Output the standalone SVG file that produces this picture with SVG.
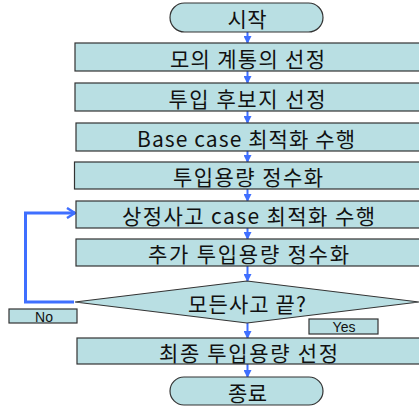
<svg xmlns="http://www.w3.org/2000/svg" width="419" height="407" viewBox="0 0 419 407">
<defs>
<style>
.n{fill:#B9DFE3;stroke:#333;stroke-width:1.2}
.t{font-family:"Noto Sans CJK KR","Noto Sans",sans-serif;font-size:21px;fill:#111;text-anchor:middle;dominant-baseline:central}
.s{font-family:"Liberation Sans",Arial,sans-serif;font-size:14px;fill:#111;text-anchor:middle;dominant-baseline:central}
.a{stroke:#3F6FFF;stroke-width:2;fill:none}
</style>
<marker id="ah" viewBox="0 0 8 8" refX="7" refY="4" markerWidth="8" markerHeight="8" markerUnits="userSpaceOnUse" orient="auto">
<path d="M0,0 L8,4 L0,8 Z" fill="#3F6FFF"/>
</marker>
<marker id="oh" viewBox="0 0 10 12" refX="9" refY="6" markerWidth="10" markerHeight="12" markerUnits="userSpaceOnUse" orient="auto">
<path d="M1,1 L9,6 L1,11" fill="none" stroke="#3F6FFF" stroke-width="2.5"/>
</marker>
</defs>
<rect width="419" height="407" fill="#fff"/>
<g id="connectors">
<line class="a" x1="247.5" y1="32" x2="247.5" y2="43" marker-end="url(#ah)"/>
<line class="a" x1="247.5" y1="71" x2="247.5" y2="83" marker-end="url(#ah)"/>
<line class="a" x1="247.5" y1="111" x2="247.5" y2="123" marker-end="url(#ah)"/>
<line class="a" x1="247.5" y1="151" x2="247.5" y2="162" marker-end="url(#ah)"/>
<line class="a" x1="247.5" y1="189" x2="247.5" y2="201" marker-end="url(#ah)"/>
<line class="a" x1="247.5" y1="228" x2="247.5" y2="239" marker-end="url(#ah)"/>
<line class="a" x1="247.5" y1="266" x2="247.5" y2="281" marker-end="url(#ah)"/>
<line class="a" x1="247.5" y1="323" x2="247.5" y2="338" marker-end="url(#ah)"/>
<line class="a" x1="247.5" y1="364" x2="247.5" y2="377" marker-end="url(#ah)"/>
<polyline points="74,302 25.5,302 25.5,213 75,213" fill="none" stroke="#3F6FFF" stroke-width="3" marker-end="url(#oh)"/>
</g>
<g id="start"><rect class="n" x="170" y="3" width="153" height="29" rx="14.5"/><text class="t" x="247" y="18" textLength="39" lengthAdjust="spacing">시작</text></g>
<g id="n1"><rect class="n" x="75" y="43" width="350" height="28"/><text class="t" x="247.5" y="57.5" textLength="155" lengthAdjust="spacing">모의 계통의 선정</text></g>
<g id="n2"><rect class="n" x="75" y="83" width="350" height="28"/><text class="t" x="247" y="97.5" textLength="157" lengthAdjust="spacing">투입 후보지 선정</text></g>
<g id="n3"><rect class="n" x="76" y="123" width="350" height="28"/><text class="t" x="246" y="137.5" textLength="218" lengthAdjust="spacing">Base case 최적화 수행</text></g>
<g id="n4"><rect class="n" x="74.5" y="162" width="350" height="27"/><text class="t" x="248" y="176" textLength="150" lengthAdjust="spacing">투입용량 정수화</text></g>
<g id="n5"><rect class="n" x="76" y="201" width="350" height="27"/><text class="t" x="248.5" y="215" textLength="253" lengthAdjust="spacing">상정사고 case 최적화 수행</text></g>
<g id="n6"><rect class="n" x="76" y="239" width="350" height="27"/><text class="t" x="248.5" y="253" textLength="201" lengthAdjust="spacing">추가 투입용량 정수화</text></g>
<g id="decision"><polygon class="n" points="75,302 247,281 419,302 247,323"/><text class="t" x="247" y="302.5" textLength="118" lengthAdjust="spacing">모든사고 끝?</text></g>
<g id="no"><rect class="n" x="9" y="309" width="68" height="14"/><text class="s" x="44" y="316.5">No</text></g>
<g id="yes"><rect class="n" x="309" y="319" width="69" height="15"/><text class="s" x="344" y="327">Yes</text></g>
<g id="n7"><rect class="n" x="77" y="338" width="350" height="26"/><text class="t" x="248.5" y="351.5" textLength="179" lengthAdjust="spacing">최종 투입용량 선정</text></g>
<g id="end"><rect class="n" x="170" y="377" width="153" height="28" rx="14"/><text class="t" x="247.5" y="391.5" textLength="39" lengthAdjust="spacing">종료</text></g>
</svg>
